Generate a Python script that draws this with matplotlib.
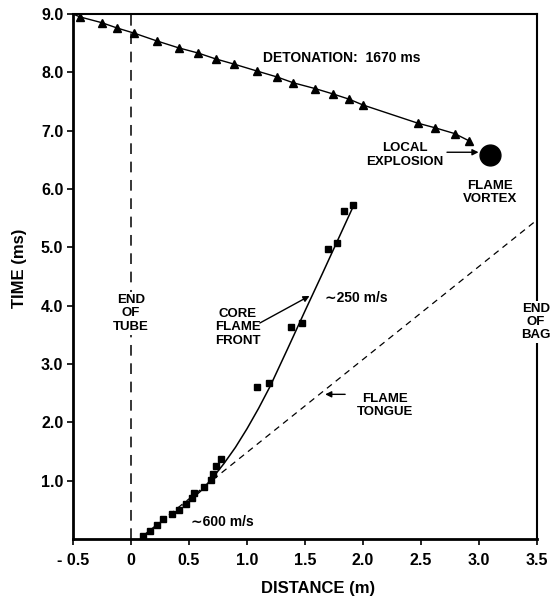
import matplotlib
matplotlib.use("Agg")
import matplotlib.pyplot as plt

plt.rcParams['font.family'] = ['Liberation Sans', 'DejaVu Sans']
plt.rcParams['font.weight'] = 'bold'

# Detonation front (triangles)
det_x = [-0.44, -0.25, -0.12, 0.03, 0.22, 0.41, 0.58, 0.73, 0.89, 1.09,
         1.26, 1.40, 1.59, 1.74, 1.88, 2.00, 2.47, 2.62, 2.79, 2.91]
det_t = [8.95, 8.85, 8.76, 8.67, 8.54, 8.42, 8.33, 8.23, 8.14, 8.02,
         7.92, 7.82, 7.72, 7.63, 7.54, 7.44, 7.13, 7.05, 6.95, 6.83]
det_line_x = [-0.5] + det_x
det_line_t = [9.0] + det_t

# Core flame front measurements (squares)
core_x = [0.10, 0.16, 0.22, 0.28, 0.35, 0.41, 0.47, 0.53, 0.54, 0.63,
          0.69, 0.71, 0.73, 0.78, 1.09, 1.19, 1.38, 1.47, 1.70, 1.78,
          1.84, 1.91]
core_t = [0.05, 0.14, 0.24, 0.34, 0.43, 0.50, 0.60, 0.70, 0.79, 0.89,
          1.01, 1.11, 1.25, 1.37, 2.60, 2.67, 3.63, 3.70, 4.98, 5.07,
          5.62, 5.72]

# Fitted core flame front curve
fit_x = [0.45, 0.50, 0.60, 0.70, 0.80, 0.90, 1.00, 1.10, 1.20, 1.35,
         1.50, 1.65, 1.80, 1.92]
fit_t = [0.57, 0.65, 0.82, 1.04, 1.29, 1.57, 1.89, 2.24, 2.62, 3.26,
         3.91, 4.55, 5.20, 5.72]

# Flame tongue (~600 m/s)
tongue_x = [0.10, 3.50]
tongue_t = [0.05, 5.47]

vortex_x, vortex_t = 3.095, 6.58

xticks = [-0.5, 0, 0.5, 1.0, 1.5, 2.0, 2.5, 3.0, 3.5]
xtick_labels = ['- 0.5', '0', '0.5', '1.0', '1.5', '2.0', '2.5', '3.0', '3.5']
yticks = [1, 2, 3, 4, 5, 6, 7, 8, 9]
ytick_labels = ['1.0', '2.0', '3.0', '4.0', '5.0', '6.0', '7.0', '8.0', '9.0']

fig = plt.figure(figsize=(5.52, 5.99), dpi=100)
ax = fig.add_axes([73 / 552, 1 - 539 / 599, 464 / 552, 525 / 599])
ax.set_xlim(-0.5, 3.5)
ax.set_ylim(0, 9.0)

# Detonation
ax.plot(det_line_x, det_line_t, color='black', lw=1.0)
ax.plot(det_x, det_t, linestyle='none', marker='^', ms=5.5, color='black')

# End of tube
ax.plot([0, 0], [0, 9.0], color='black', lw=1.1, dashes=(7, 5))

# Flame tongue and core front
ax.plot(tongue_x, tongue_t, color='black', lw=0.9, dashes=(5, 4))
ax.plot(fit_x, fit_t, color='black', lw=1.1)
ax.plot(core_x, core_t, linestyle='none', marker='s', ms=4.2, color='black')

# Local explosion
ax.plot(vortex_x, vortex_t, marker='o', ms=15, color='black')

lab = dict(fontsize=9.5, fontweight='bold', ha='center', va='center',
           linespacing=1.15)
ax.text(1.14, 8.25, 'DETONATION:  1670 ms', fontsize=10, fontweight='bold',
        ha='left', va='center')
ax.text(2.36, 6.58, 'LOCAL\nEXPLOSION', **lab)
ax.annotate('', xy=(3.02, 6.63), xytext=(2.70, 6.63),
            arrowprops=dict(arrowstyle='-|>', color='black', lw=1.0,
                            mutation_scale=9))
ax.text(3.095, 5.94, 'FLAME\nVORTEX', **lab)

ax.text(0, 3.87, 'END\nOF\nTUBE',
        bbox=dict(facecolor='white', edgecolor='none', pad=1.5), **lab)

ax.text(0.92, 3.63, 'CORE\nFLAME\nFRONT', **lab)
ax.annotate('', xy=(1.56, 4.19), xytext=(1.09, 3.68),
            arrowprops=dict(arrowstyle='-|>', color='black', lw=1.0,
                            mutation_scale=9))
ax.text(1.67, 4.14, '∼250 m/s', fontsize=10, fontweight='bold',
        ha='left', va='center')
ax.text(0.52, 0.29, '∼600 m/s', fontsize=10, fontweight='bold',
        ha='left', va='center')

ax.text(2.19, 2.29, 'FLAME\nTONGUE', **lab)
ax.annotate('', xy=(1.65, 2.48), xytext=(1.87, 2.48),
            arrowprops=dict(arrowstyle='-|>', color='black', lw=1.0,
                            mutation_scale=9))

# End of bag sits on the right frame line
ax.text(3.49, 3.72, 'END\nOF\nBAG', clip_on=False,
        bbox=dict(facecolor='white', edgecolor='none', pad=1.0), zorder=5,
        **lab)

# Axes styling
ax.set_xticks(xticks)
ax.set_xticklabels(xtick_labels)
ax.set_yticks(yticks)
ax.set_yticklabels(ytick_labels)
ax.tick_params(direction='out', length=4, width=1.2, labelsize=11.5, pad=3)
ax.tick_params(axis='x', pad=6)
for lbl in ax.get_xticklabels() + ax.get_yticklabels():
    lbl.set_fontweight('bold')
for side in ['left', 'bottom']:
    ax.spines[side].set_linewidth(2.0)
for side in ['top', 'right']:
    ax.spines[side].set_linewidth(1.5)

fig.text(20 / 552, 1 - 268 / 599, 'TIME (ms)', rotation=90, fontsize=12,
         fontweight='bold', ha='center', va='center')
fig.text(318 / 552, 1 - 588 / 599, 'DISTANCE (m)', fontsize=12,
         fontweight='bold', ha='center', va='center')

fig.savefig('out.png', dpi=100)
